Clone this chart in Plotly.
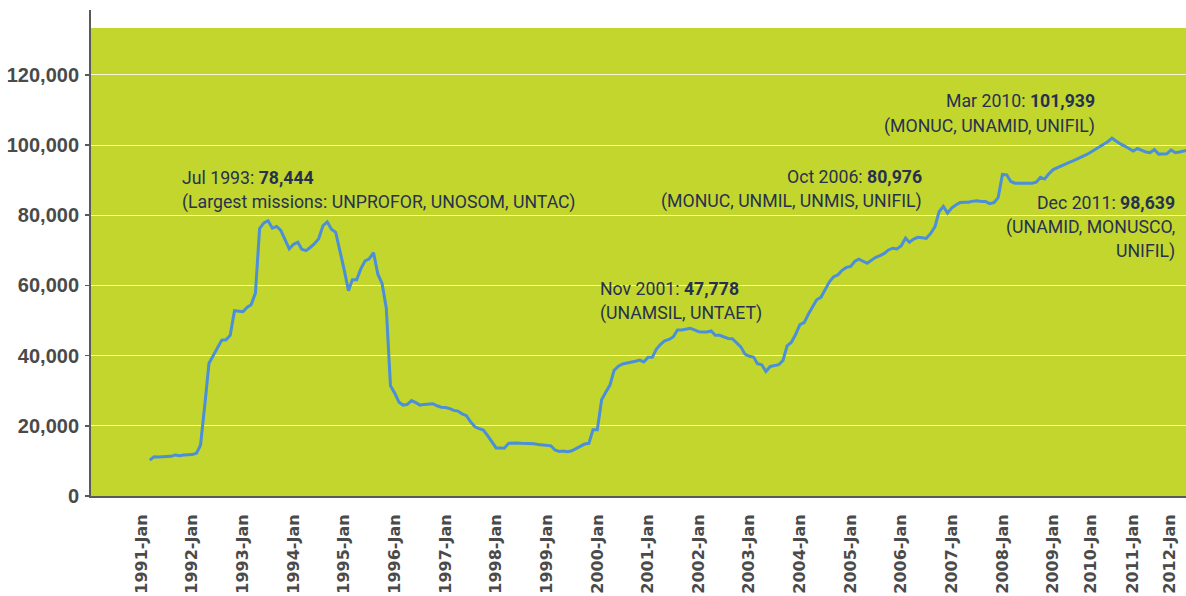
import pandas as pd
import plotly.graph_objects as go

# ---- data (monthly UN peacekeeping personnel, Mar 1991 - Dec 2011) ----
start_month = "1991-03-01"
personnel = [
    10200, 11200, 11100, 11200, 11300, 11300, 11700, 11500, 11700, 11700,
    11800, 12200, 14500, 26000, 37800, 40000, 42400, 44400, 44500, 45800,
    52800, 52700, 52500, 53800, 54500, 57800, 76200, 77800, 78444, 76300,
    76800, 75700, 72900, 70400, 71700, 72300, 70300, 69900, 70800, 71900,
    73300, 77000, 78100, 76000, 75100, 70300, 64500, 58500, 61600, 61600,
    64700, 67000, 67600, 69300, 63200, 60600, 53500, 31400, 29300, 26700,
    25900, 26100, 27200, 26600, 25900, 26100, 26200, 26300, 25700, 25300,
    25200, 24900, 24400, 24200, 23400, 22900, 21100, 19700, 19200, 18800,
    17200, 15400, 13700, 13700, 13600, 15000, 15100, 15100, 15000, 15000,
    15000, 14900, 14700, 14600, 14400, 14300, 13100, 12700, 12800, 12600,
    12900, 13600, 14300, 14800, 15000, 18900, 18900, 27400, 29500, 31600,
    35800, 37000, 37600, 37800, 38200, 38400, 38700, 38200, 39500, 39500,
    41800, 43200, 44200, 44600, 45300, 47300, 47300, 47600, 47778, 47300,
    46800, 46700, 46700, 47000, 45800, 45800, 45300, 44900, 44800, 43600,
    42500, 40400, 39800, 39600, 37700, 37400, 35500, 36900, 37200, 37400,
    38600, 42800, 43800, 46000, 48800, 49400, 51700, 53800, 55900, 56600,
    59000, 61000, 62500, 63000, 64300, 65100, 65400, 66900, 67500, 67000,
    66300, 67200, 68000, 68500, 69100, 70100, 70600, 70400, 71300, 73500,
    72300, 73200, 73700, 73600, 73400, 74800, 76700, 80976, 82500, 80600,
    82100, 83000, 83600, 83700, 83700, 84000, 84100, 83900, 83900, 83300,
    83600, 85000, 91600, 91500, 89600, 89100, 89000, 89100, 89100, 89100,
    89400, 90800, 90300, 91800, 93000, 93600, 94100, 94600, 95100, 95600,
    96100, 96700, 97300, 98000, 98700, 99400, 100200, 101000, 101939, 101000,
    100300, 99700, 99000, 98300, 99000, 98400, 98000, 97800, 98700, 97400,
    97400, 97500, 98600, 97800, 98000, 98400, 98600, 98300, 98700, 98639,
]
months = pd.date_range(start_month, periods=len(personnel), freq="MS")

tick_labels = [f"{y}-Jan" for y in range(1991, 2013)]
tick_positions = [f"{y}-01-01" for y in range(1991, 2010)] + [
    "2009-10-01", "2010-07-31", "2011-04-24"]

y_ticks = [0, 20000, 40000, 60000, 80000, 100000, 120000]

# annotation texts: (lines, anchor, x_px, [y_px per line])
notes = [
    (["Jul 1993: <b>78,444</b>",
      "(Largest missions: UNPROFOR, UNOSOM, UNTAC)"], "left", 180, [178, 202]),
    (["Nov 2001: <b>47,778</b>", "(UNAMSIL, UNTAET)"], "left", 598, [289, 313]),
    (["Oct 2006: <b>80,976</b>", "(MONUC, UNMIL, UNMIS, UNIFIL)"], "right", 924, [177, 201]),
    (["Mar 2010: <b>101,939</b>", "(MONUC, UNAMID, UNIFIL)"], "right", 1097, [101, 126]),
    (["Dec 2011: <b>98,639</b>", "(UNAMID, MONUSCO,", "UNIFIL)"], "right", 1177, [203, 227, 252]),
]

# ---- layout geometry ----
W, H = 1186, 596
L, R, T, B = 91, 0, 10, 100
plot_w = W - L - R
plot_h = H - T - B
Y_MAX = 138460
GREEN_TOP = 133330

GREEN = "#c2d62e"
LINE = "#4b8fd8"
TEXT = "#27314f"
AXIS = "#5a5a5a"
LABEL = "#4a4a4a"

fig = go.Figure()
fig.add_trace(go.Scatter(
    x=months, y=personnel, mode="lines",
    line=dict(color=LINE, width=3), hoverinfo="skip", showlegend=False,
))

fig.add_shape(type="rect", xref="paper", yref="y", x0=0, x1=1, y0=0, y1=GREEN_TOP,
              fillcolor=GREEN, line=dict(width=0), layer="below")

ann_font = "Roboto, Arial, sans-serif"
for lines, anchor, xpx, ypxs in notes:
    for text, ypx in zip(lines, ypxs):
        fig.add_annotation(
            xref="paper", yref="paper",
            x=(xpx - L) / plot_w, y=(H - B - ypx) / plot_h,
            xanchor=anchor, yanchor="middle", text=text, showarrow=False,
            align=anchor,
            font=dict(family=ann_font, size=17.7, color=TEXT),
        )

fig.update_layout(
    width=W, height=H,
    margin=dict(l=L, r=R, t=T, b=B, pad=0),
    paper_bgcolor="white", plot_bgcolor="white",
    showlegend=False,
    xaxis=dict(
        type="date", range=["1990-01-01", "2011-08-17"],
        showgrid=False, zeroline=False,
        showline=True, linecolor=AXIS, linewidth=2,
        ticks="", tickangle=-90,
        tickvals=tick_positions, ticktext=tick_labels,
        tickfont=dict(family="DejaVu Sans", size=16, color=LABEL, weight="bold"),
        ticklabelstandoff=10,
    ),
    yaxis=dict(
        range=[0, Y_MAX],
        tickvals=y_ticks, tickformat=",",
        showgrid=True, gridcolor="rgba(255,255,255,0.8)", gridwidth=1,
        zeroline=False,
        showline=True, linecolor=AXIS, linewidth=2,
        ticks="outside", ticklen=4, tickcolor=AXIS, tickwidth=1.5,
        tickfont=dict(family="Liberation Sans, Arial, sans-serif", size=20,
                      color=LABEL, weight="bold"),
        ticklabelstandoff=2,
    ),
)

fig.write_html(
    "out.html",
    config={"displayModeBar": False, "staticPlot": True},
    post_script="document.body.style.margin='0';document.body.style.overflow='hidden';",
)
